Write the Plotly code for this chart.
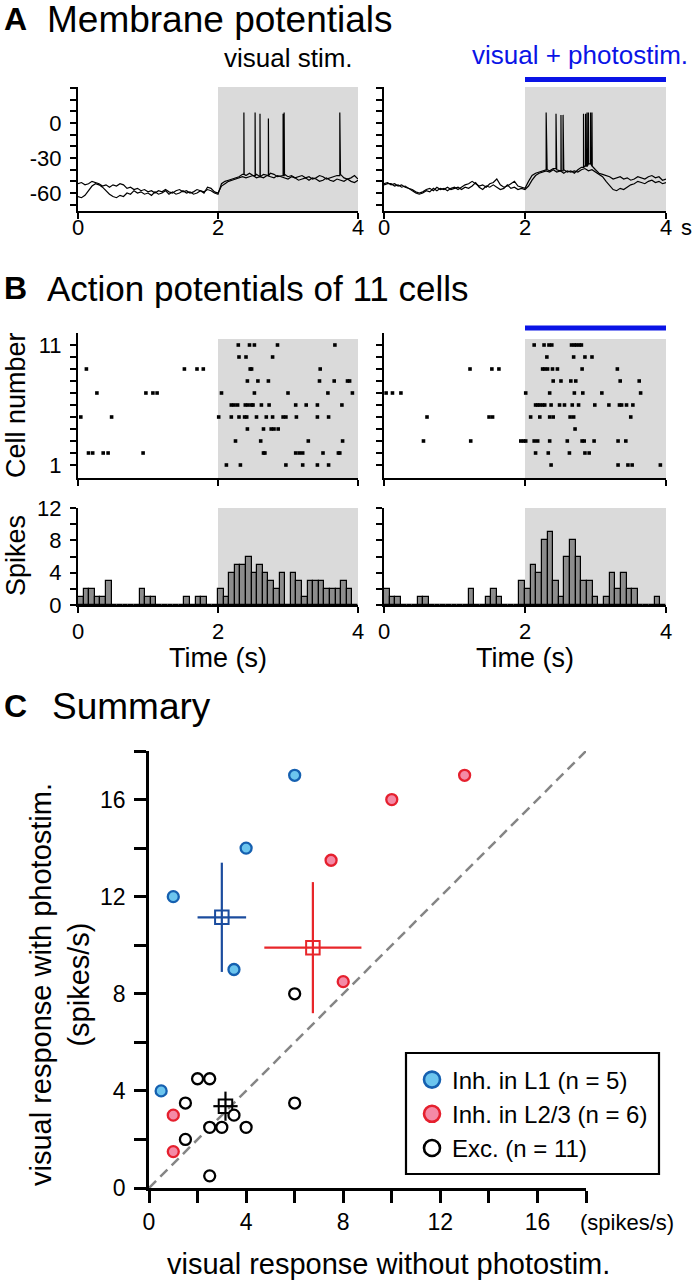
import plotly.graph_objects as go

# ---------------- DATA ----------------
VM_TIME = [0.00, 0.05, 0.10, 0.15, 0.20, 0.25, 0.30, 0.35, 0.40, 0.45,
           0.50, 0.55, 0.60, 0.65, 0.70, 0.75, 0.80, 0.85, 0.90, 0.95,
           1.00, 1.05, 1.10, 1.15, 1.20, 1.25, 1.30, 1.35, 1.40, 1.45,
           1.50, 1.55, 1.60, 1.65, 1.70, 1.75, 1.80, 1.85, 1.90, 1.95,
           2.00, 2.05, 2.10, 2.15, 2.20, 2.25, 2.30, 2.35, 2.40, 2.45,
           2.50, 2.55, 2.60, 2.65, 2.70, 2.75, 2.80, 2.85, 2.90, 2.95,
           3.00, 3.05, 3.10, 3.15, 3.20, 3.25, 3.30, 3.35, 3.40, 3.45,
           3.50, 3.55, 3.60, 3.65, 3.70, 3.75, 3.80, 3.85, 3.90, 3.95, 4.00]

VIS_VM_1 = [-52, -51, -53, -52, -50, -51, -52, -54, -53, -55,
            -53, -54, -52, -53, -56, -55, -57, -56, -58, -57,
            -59, -58, -60, -58, -59, -57, -59, -60, -58, -57,
            -59, -58, -60, -59, -57, -58, -59, -57, -58, -60,
            -61, -52, -50, -49, -48, -47, -46, -44, -45, -43,
            -45, -44, -46, -44, -45, -43, -44, -46, -45, -44,
            -46, -45, -47, -46, -45, -47, -46, -48, -47, -45,
            -46, -48, -47, -46, -45, -44, -47, -48, -47, -45, -48]
VIS_VM_2 = [-63, -64, -62, -58, -54, -52, -53, -55, -58, -61,
            -63, -64, -62, -63, -60, -61, -58, -60, -59, -61,
            -60, -62, -59, -61, -60, -58, -61, -59, -61, -60,
            -58, -60, -59, -61, -60, -58, -60, -55, -56, -59,
            -60, -54, -52, -50, -49, -48, -47, -46, -47, -46,
            -45, -47, -46, -47, -45, -46, -47, -45, -46, -47,
            -48, -46, -47, -49, -48, -47, -49, -47, -48, -50,
            -49, -47, -49, -50, -48, -49, -50, -48, -50, -51, -49]
VIS_SPIKE_T = [2.37, 2.53, 2.60, 2.72, 2.93, 2.945, 3.74]
VIS_SPIKE_PEAK = [9, 9, 8, 4, 8, 9, 9]

PHO_VM_1 = [-52, -51, -53, -52, -54, -53, -55, -56, -57, -59,
            -60, -59, -57, -56, -58, -55, -57, -56, -58, -56,
            -55, -57, -55, -53, -52, -50, -52, -54, -53, -55,
            -52, -51, -48, -53, -55, -54, -52, -50, -54, -55,
            -56, -50, -45, -43, -42, -41, -40, -41, -39, -40,
            -41, -40, -42, -41, -43, -40, -38, -37, -35, -37,
            -40, -43, -44, -45, -46, -48, -47, -46, -48, -47,
            -49, -48, -46, -47, -48, -46, -45, -47, -46, -49, -48]
PHO_VM_2 = [-53, -52, -52, -54, -53, -55, -54, -56, -58, -60,
            -61, -60, -58, -59, -56, -58, -56, -57, -55, -57,
            -56, -55, -57, -55, -56, -54, -51, -55, -57, -54,
            -55, -53, -55, -57, -56, -53, -56, -55, -57, -56,
            -57, -54, -49, -45, -43, -42, -41, -42, -40, -42,
            -41, -43, -41, -42, -41, -42, -40, -39, -41, -40,
            -42, -44, -46, -50, -54, -57, -58, -56, -57, -55,
            -53, -52, -50, -51, -52, -50, -49, -51, -50, -52, -51]
PHO_SPIKE_T = [2.30, 2.31, 2.44, 2.51, 2.54, 2.83, 2.86, 2.88, 2.90, 2.93, 2.95]
PHO_SPIKE_PEAK = [9, 8, 8, 7, 7, 8, 8, 9, 9, 9, 9]

# raster: spike times (s) per cell number
VIS_RASTER = {
    11: [2.29, 2.45, 2.52, 2.85, 3.67],
    10: [2.30, 2.40, 2.78],
    9: [0.12, 1.52, 1.70, 1.79, 2.46, 2.48, 3.46],
    8: [2.42, 2.57, 2.72, 3.45, 3.66, 3.85, 3.88],
    7: [0.27, 0.97, 1.07, 1.13, 2.05, 2.52, 3.00, 3.57, 3.92],
    6: [2.19, 2.23, 2.28, 2.39, 2.43, 2.48, 2.50, 2.62, 2.73, 3.11, 3.26, 3.42, 3.77],
    5: [0.04, 0.48, 2.01, 2.19, 2.30, 2.38, 2.41, 2.55, 2.69, 2.78, 2.93, 2.97, 3.12, 3.42, 3.58],
    4: [2.42, 2.65, 2.76, 2.80, 2.86],
    3: [2.25, 2.61, 3.29, 3.78],
    2: [0.15, 0.21, 0.36, 0.43, 0.93, 2.65, 2.67, 3.11, 3.16, 3.21, 3.50, 3.72, 3.74],
    1: [2.12, 2.32, 2.97, 3.21, 3.42, 3.58],
}
PHO_RASTER = {
    11: [2.13, 2.27, 2.34, 2.38, 2.66, 2.70, 2.73, 2.77, 2.80],
    10: [2.31, 2.69, 2.85, 2.95],
    9: [1.22, 1.53, 1.63, 2.25, 2.28, 2.32, 2.39, 2.46, 2.81, 3.31],
    8: [2.40, 2.51, 2.65, 2.72, 3.35, 3.62],
    7: [0.03, 0.12, 0.24, 2.01, 2.35, 2.70, 2.82, 3.09, 3.64],
    6: [2.15, 2.18, 2.21, 2.25, 2.28, 2.37, 2.49, 2.56, 2.67, 2.76, 2.99, 3.19, 3.34, 3.37, 3.44, 3.53],
    5: [0.61, 1.49, 1.54, 2.08, 2.21, 2.35, 2.40, 2.64, 2.69, 3.50],
    4: [2.71],
    3: [0.56, 1.23, 1.94, 1.98, 2.01, 2.13, 2.18, 2.35, 2.60, 2.81, 2.84, 2.98, 3.32, 3.43],
    2: [2.15, 2.33, 2.63, 2.85, 2.91],
    1: [2.37, 3.32, 3.46, 3.52, 3.92],
}

# PSTH: spike counts in 0.08 s bins from 0 to 4 s
BIN_WIDTH = 0.08
VIS_HIST = [1, 2, 2, 1, 1, 3, 0, 0, 0, 0,
            0, 2, 1, 1, 0, 0, 0, 0, 0, 1,
            0, 1, 1, 0, 0, 2, 1, 4, 5, 5,
            6, 4, 5, 4, 3, 2, 4, 0, 4, 3,
            1, 3, 3, 3, 2, 2, 2, 3, 2, 0]
PHO_HIST = [2, 1, 1, 0, 0, 0, 1, 1, 0, 0,
            0, 0, 0, 0, 0, 2, 0, 0, 1, 2,
            1, 0, 0, 0, 3, 2, 5, 4, 8, 9,
            3, 1, 6, 8, 6, 3, 3, 1, 0, 1,
            4, 2, 4, 2, 2, 0, 0, 0, 1, 0]

# Summary (spikes/s)
L1_X = [6.0, 4.0, 1.0, 3.5, 0.5]
L1_Y = [17.0, 14.0, 12.0, 9.0, 4.0]
L23_X = [13.0, 10.0, 7.5, 8.0, 1.0, 1.0]
L23_Y = [17.0, 16.0, 13.5, 8.5, 3.0, 1.5]
EXC_X = [6.0, 2.0, 2.5, 1.5, 6.0, 3.5, 2.5, 3.0, 4.0, 1.5, 2.5]
EXC_Y = [8.0, 4.5, 4.5, 3.5, 3.5, 3.0, 2.5, 2.5, 2.5, 2.0, 0.5]
MEAN_NAMES = ["L1", "L23", "EXC"]
MEAN_X = [3.0, 6.75, 3.15]
MEAN_Y = [11.15, 9.9, 3.37]
ERR_X = [1.0, 2.0, 0.5]
ERR_Y = [2.25, 2.7, 0.6]
LEGEND_NAMES = ["Inh. in L1 (n = 5)", "Inh. in L2/3 (n = 6)", "Exc. (n = 11)"]

# ---------------- LAYOUT HELPERS ----------------
W, H = 692, 1280
FONT = "Liberation Sans, Arial, Helvetica, sans-serif"


def fx(x):
    return x / W


def fy(y):
    return 1 - y / H


def with_spikes(times, vals, st, sp):
    xs, ys = [], []
    spikes = sorted(zip(st, sp))
    j = 0
    for t, v in zip(times, vals):
        while j < len(spikes) and spikes[j][0] < t:
            s_t, s_p = spikes[j]
            base = ys[-1] if ys else v
            xs += [s_t, s_t, s_t + 0.004]
            ys += [base, s_p, base]
            j += 1
        xs.append(t)
        ys.append(v)
    return xs, ys


def raster_xy(raster):
    xs, ys = [], []
    for cell, times in raster.items():
        for t in times:
            xs.append(t)
            ys.append(cell)
    return xs, ys


fig = go.Figure()

# Panel A traces
for xa, ya, vm1, vm2, st, sp in [("x", "y", VIS_VM_1, VIS_VM_2, VIS_SPIKE_T, VIS_SPIKE_PEAK),
                                  ("x2", "y2", PHO_VM_1, PHO_VM_2, PHO_SPIKE_T, PHO_SPIKE_PEAK)]:
    fig.add_trace(go.Scatter(x=VM_TIME, y=vm2, mode="lines", xaxis=xa, yaxis=ya,
                             line=dict(color="black", width=1.2), showlegend=False))
    sx, sy = with_spikes(VM_TIME, vm1, st, sp)
    fig.add_trace(go.Scatter(x=sx, y=sy, mode="lines", xaxis=xa, yaxis=ya,
                             line=dict(color="black", width=1.2), showlegend=False))

# Panel B rasters
for xa, ya, r in [("x3", "y3", VIS_RASTER), ("x4", "y4", PHO_RASTER)]:
    rx, ry = raster_xy(r)
    fig.add_trace(go.Scatter(x=rx, y=ry, mode="markers", xaxis=xa, yaxis=ya,
                             marker=dict(symbol="square", size=3.6, color="black", line=dict(width=0)),
                             showlegend=False))

# Panel B histograms
for xa, ya, counts in [("x5", "y5", VIS_HIST), ("x6", "y6", PHO_HIST)]:
    centers = [BIN_WIDTH * (i + 0.5) for i in range(len(counts))]
    fig.add_trace(go.Bar(x=centers, y=counts, width=BIN_WIDTH, xaxis=xa, yaxis=ya,
                         marker=dict(color="#8c8c8c", line=dict(color="black", width=1.2)),
                         showlegend=False))

# Panel C
C_MAX = 18
fig.add_trace(go.Scatter(x=[0, C_MAX], y=[0, C_MAX], mode="lines", xaxis="x7", yaxis="y7",
                         line=dict(color="#858585", width=2.5, dash="10px,6px"), showlegend=False))
mean_colors = {"L1": "#1b4c9e", "L23": "#e8262a", "EXC": "black"}
for name, mx, my, ex, ey in zip(MEAN_NAMES, MEAN_X, MEAN_Y, ERR_X, ERR_Y):
    c = mean_colors[name]
    fig.add_trace(go.Scatter(x=[mx], y=[my], mode="markers", xaxis="x7", yaxis="y7",
                             error_x=dict(type="data", array=[ex], color=c, thickness=2.2, width=0),
                             error_y=dict(type="data", array=[ey], color=c, thickness=2.2, width=0),
                             marker=dict(symbol="square-open", size=13.5, color=c, line=dict(width=2)),
                             showlegend=False))
groups = [(L1_X, L1_Y, "#6cc5ee", "#1560b0", LEGEND_NAMES[0]),
          (L23_X, L23_Y, "#f48aa6", "#e5202e", LEGEND_NAMES[1]),
          (EXC_X, EXC_Y, "white", "black", LEGEND_NAMES[2])]
for gx, gy, fill, edge, nm in groups:
    fig.add_trace(go.Scatter(x=gx, y=gy, mode="markers", xaxis="x7", yaxis="y7", name=nm,
                             showlegend=False,
                             marker=dict(symbol="circle", size=11, color=fill,
                                         line=dict(color=edge, width=2.3))))
    # legend-only entry with the larger legend symbol
    fig.add_trace(go.Scatter(x=[None], y=[None], mode="markers", xaxis="x7", yaxis="y7", name=nm,
                             marker=dict(symbol="circle", size=16, color=fill,
                                         line=dict(color=edge, width=2.6))))


def axis(domain, rng, anchor, tickvals, ticktext=None, ticklen=6, lw=2, fs=22,
         showlabels=True, standoff=0):
    d = dict(domain=domain, range=rng, anchor=anchor, showline=True, linecolor="black",
             linewidth=lw, ticks="outside", ticklen=ticklen, tickwidth=lw, tickcolor="black",
             showgrid=False, zeroline=False, fixedrange=True, tickmode="array",
             tickvals=tickvals, showticklabels=showlabels, automargin=False,
             ticklabelstandoff=standoff,
             tickfont=dict(size=fs, color="black", family=FONT))
    if ticktext is not None:
        d["ticktext"] = ticktext
    return d


XL = [fx(78), fx(358)]
XR = [fx(384), fx(666)]
YA = [fy(211), fy(87)]
YR = [fy(478), fy(333)]
YH = [fy(605), fy(508)]
VM_RANGE = [-75.4, 30.9]
VM_TICKS = [-70, -60, -50, -40, -30, -20, -10, 0, 10, 20, 30]
VM_TEXT = ["", "-60", "", "", "-30", "", "", "0", "", "", ""]
CELL_TICKS = list(range(1, 12))
CELL_TEXT = ["1"] + [""] * 9 + ["11"]
SPK_TICKS = [0, 2, 4, 6, 8, 10, 12]
SPK_TEXT = ["0", "", "4", "", "8", "", "12"]
T_TICKS = [0, 2, 4]
T_TEXT = ["0", "2", "4"]
C_TICKS = [0, 2, 4, 6, 8, 10, 12, 14, 16, 18]
C_TEXT = ["0", "", "4", "", "8", "", "12", "", "16", ""]

fig.update_layout(
    width=W, height=H, autosize=False,
    margin=dict(l=0, r=0, t=0, b=0, pad=0, autoexpand=False),
    paper_bgcolor="white", plot_bgcolor="rgba(0,0,0,0)",
    font=dict(family=FONT, color="black"),
    bargap=0,
    xaxis=axis(XL, [0, 4], "y", T_TICKS, showlabels=False),
    yaxis=axis(YA, VM_RANGE, "x", VM_TICKS, VM_TEXT, standoff=4),
    xaxis2=axis(XR, [0, 4], "y2", T_TICKS, showlabels=False),
    yaxis2=axis(YA, VM_RANGE, "x2", VM_TICKS, showlabels=False),
    xaxis3=axis(XL, [0, 4], "y3", T_TICKS, showlabels=False),
    yaxis3=axis(YR, [-0.083, 12], "x3", CELL_TICKS, CELL_TEXT, standoff=4),
    xaxis4=axis(XR, [0, 4], "y4", T_TICKS, showlabels=False),
    yaxis4=axis(YR, [-0.083, 12], "x4", CELL_TICKS, showlabels=False),
    xaxis5=axis(XL, [0, 4], "y5", T_TICKS, T_TEXT),
    yaxis5=axis(YH, [0, 12], "x5", SPK_TICKS, SPK_TEXT, standoff=4),
    xaxis6=axis(XR, [0, 4], "y6", T_TICKS, T_TEXT),
    yaxis6=axis(YH, [0, 12], "x6", SPK_TICKS, showlabels=False),
    xaxis7=axis([fx(149), fx(586)], [0, C_MAX], "y7", C_TICKS, C_TEXT, ticklen=12, lw=2.5, fs=23),
    yaxis7=axis([fy(1188), fy(751)], [0, C_MAX], "x7", C_TICKS, C_TEXT, ticklen=12, lw=2.5, fs=23,
                standoff=4),
    legend=dict(x=fx(412), y=fy(1114), xanchor="left", yanchor="middle",
                bgcolor="rgba(0,0,0,0)", borderwidth=0, itemsizing="trace",
                font=dict(size=24, family=FONT, color="black"), tracegroupgap=0),
)

shapes = []
GRAY = "#dadada"
for xr, yr, top in [("x", "y", VM_RANGE[1]), ("x2", "y2", VM_RANGE[1]),
                    ("x3", "y3", 11.5), ("x4", "y4", 11.5), ("x5", "y5", 12), ("x6", "y6", 12)]:
    bottom = {"y": VM_RANGE[0], "y2": VM_RANGE[0], "y3": -0.083, "y4": -0.083, "y5": 0, "y6": 0}[yr]
    shapes.append(dict(type="rect", xref=xr, yref=yr, x0=2, x1=4, y0=bottom, y1=top,
                       fillcolor=GRAY, line=dict(width=0), layer="below"))
BLUE = "#0a14e6"
shapes.append(dict(type="line", xref="x2", yref="paper", x0=2, x1=4, y0=fy(79.5), y1=fy(79.5),
                   line=dict(color=BLUE, width=5)))
shapes.append(dict(type="line", xref="x4", yref="paper", x0=2, x1=4, y0=fy(328), y1=fy(328),
                   line=dict(color=BLUE, width=5)))
# legend frame
shapes.append(dict(type="rect", xref="paper", yref="paper", x0=fx(406), x1=fx(659),
                   y0=fy(1174), y1=fy(1053), line=dict(color="black", width=2.2),
                   fillcolor="rgba(0,0,0,0)"))
fig.update_layout(shapes=shapes)


def ann(text, x, y, size, xanchor="center", color="black", angle=0, xref="paper"):
    return dict(text=text, x=(fx(x) if xref == "paper" else x), y=fy(y), xref=xref, yref="paper",
                showarrow=False, xanchor=xanchor, yanchor="middle", textangle=angle,
                font=dict(size=size, color=color, family=FONT))


annotations = [
    ann("<b>A</b>", 2, 19, 32, "left"),
    ann("Membrane potentials", 45, 19, 37, "left"),
    ann("visual stim.", 288, 58, 26),
    ann("visual + photostim.", 580, 55, 26, color=BLUE),
    ann("<b>B</b>", 2, 288, 32, "left"),
    ann("Action potentials of 11 cells", 45, 288, 35, "left"),
    ann("Cell number", 16, 405, 27, angle=-90),
    ann("Spikes", 16, 556, 27, angle=-90),
    ann("Time (s)", 218, 658, 27),
    ann("Time (s)", 525, 658, 27),
    ann("<b>C</b>", 2, 706, 32, "left"),
    ann("Summary", 50, 706, 37, "left"),
    ann("(spikes/s)", 627, 1222, 22),
    ann("visual response without photostim.", 388, 1264, 29),
    ann("visual response with photostim.<br>(spikes/s)", 60, 985, 29, angle=-90),
]
# Panel A time tick labels (placed close under the axis as in the figure)
for xr in ["x", "x2"]:
    for tv, tt in zip(T_TICKS, T_TEXT):
        annotations.append(ann(tt, tv, 227, 22, xref=xr))
annotations.append(ann("s", 686, 227, 22))
fig.update_layout(annotations=annotations)

fig.write_html(
    "out.html",
    config={"responsive": False, "displayModeBar": False},
    post_script="document.body.style.margin='0px';document.body.style.overflow='hidden';"
                "document.documentElement.style.overflow='hidden';",
)
